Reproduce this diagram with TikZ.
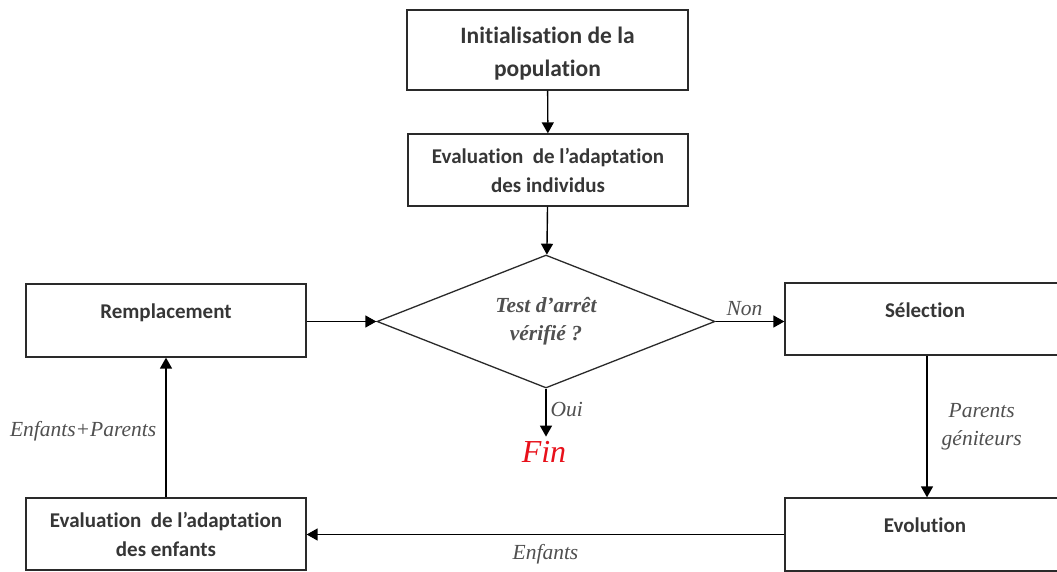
\documentclass[tikz,border=0pt]{standalone}
\usepackage{fontspec}
\setmainfont{Liberation Serif}
\newfontfamily\boxfont[Ligatures={TeX,NoCommon}]{Carlito}
\usetikzlibrary{arrows.meta,shapes.geometric}
\definecolor{boxtext}{HTML}{363636}
\definecolor{labtext}{HTML}{505050}
\definecolor{linec}{HTML}{2A2A2A}
\definecolor{finred}{HTML}{E8101A}
\begin{document}
\begin{tikzpicture}[x=1pt,y=-1pt,
  box/.style={draw=linec, line width=1.3pt, inner sep=0pt, align=center,
    font=\boxfont\bfseries\fontsize{21}{29}\selectfont, text=boxtext},
  onebox/.style={box, text height=15pt, text depth=19pt},
  arr/.style={-{Triangle[length=11pt,width=12pt]}, line width=1.4pt, draw=black},
  lab/.style={font=\itshape\fontsize{21.5}{28}\selectfont, text=labtext, inner sep=0pt, align=center}]
\clip (0,0) rectangle (1057,572);
\fill[white] (0,0) rectangle (1057,572);

\node[box, font=\boxfont\bfseries\fontsize{23.5}{33}\selectfont, minimum width=281pt, minimum height=80pt] (init) at (547.5,50) {\rule{0pt}{24pt}Initialisation de la\\population};
\node[box, minimum width=280pt, minimum height=72pt] (evalind) at (548,170) {Evaluation\ \ de l’adaptation\\des individus};
\node[draw=linec, line width=1.3pt, diamond, minimum width=338pt, minimum height=133pt, aspect=2.54, inner sep=0pt,
      align=center, font=\bfseries\itshape\fontsize{21.5}{28}\selectfont, text=labtext] (test) at (546,321.5) {Test d’arrêt\\vérifié ?};
\node[onebox, minimum width=280pt, minimum height=73pt] (rem) at (166,320.5) {Remplacement};
\node[onebox, minimum width=280pt, minimum height=72pt] (sel) at (925,319) {Sélection};
\node[onebox, minimum width=280pt, minimum height=73pt] (evo) at (925,534.5) {Evolution};
\node[box, minimum width=280pt, minimum height=72pt] (evalenf) at (166,534) {Evaluation\ \ de l’adaptation\\des enfants};
\node[font=\itshape\fontsize{32}{34}\selectfont, text=finred, inner sep=0pt, anchor=base] (fin) at (544,462) {Fin};

\draw[arr] (init) -- (evalind);
\draw[arr] (evalind) -- (test);
\draw[arr] (rem.east |- test.west) -- (test.west);
\draw[arr] (test.east) -- node[lab, pos=0.42, above=5pt] {Non} (test.east -| sel.west);
\draw[arr, shorten >=4pt] (test.south) -- node[lab, pos=0.4, right=4pt] {Oui} (test.south |- fin.north);
\draw[arr] ([xshift=2pt]sel.south) -- node[lab, right=14pt] {Parents\\géniteurs} ([xshift=2pt]evo.north);
\draw[arr] (evo.west) -- node[lab, pos=0.5, below=9pt] {Enfants} (evalenf.east |- evo.west);
\draw[arr] (evalenf.north) -- node[lab, pos=0.47, left=9pt] {Enfants+Parents} (rem.south);
\end{tikzpicture}
\end{document}
